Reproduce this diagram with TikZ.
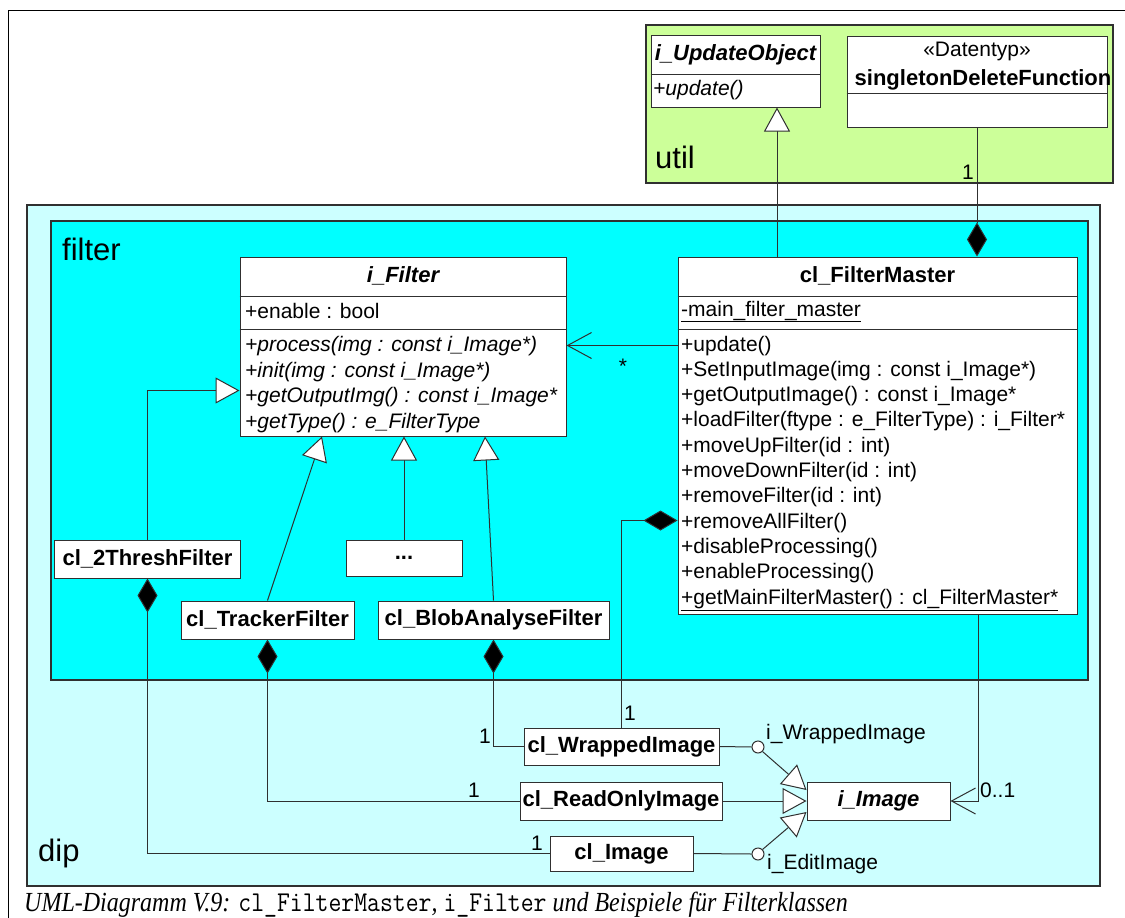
\documentclass[tikz,border=0pt]{standalone}
\usepackage{fontspec}
\setmainfont{Liberation Sans}
\newfontfamily\capserif{Liberation Serif}
\usetikzlibrary{arrows.meta}
\definecolor{utilgreen}{HTML}{CCFF99}
\definecolor{diplight}{HTML}{CCFFFF}
\definecolor{filtercyan}{HTML}{00FFFF}
\definecolor{edge}{HTML}{303030}
\newcommand\fsB{\fontsize{22}{26}\selectfont\bfseries}
\newcommand\fsR{\fontsize{21}{25}\selectfont}
\newcommand\fsP{\fontsize{31}{36}\selectfont}
\tikzset{
  pkg/.style={draw=edge, line width=1.5pt},
  pkglabel/.style={anchor=west, inner sep=0pt, font=\fsP},
  cls/.style={draw=edge, fill=white, line width=1pt, inner sep=0pt},
  smallcls/.style={cls, font=\fsB, minimum height=38pt},
  sep/.style={draw=edge, line width=1pt},
  ttl/.style={anchor=base, inner sep=0pt, font=\fsB},
  mem/.style={anchor=base west, inner sep=0pt, font=\fsR},
  lbl/.style={inner sep=0pt, font=\fsR},
  conn/.style={draw=edge, line width=1pt},
  gen/.style={conn, -{Triangle[length=24pt, width=26pt, fill=white]}},
  comp/.style={conn, {Diamond[length=34pt, width=20pt, fill=black]}-},
  compend/.style={conn, -{Diamond[length=34pt, width=20pt, fill=black]}},
  assoc/.style={conn, -{Straight Barb[length=24pt, width=26pt]}},
  lolli/.style={circle, draw=edge, fill=white, line width=1pt, minimum size=12pt, inner sep=0pt},
}
\begin{document}
\begin{tikzpicture}[x=1pt, y=-1pt]
\useasboundingbox (0,0) rectangle (1125,918);
% outer frame (top and left)
\draw[line width=1pt] (8,918) -- (8,10) -- (1125,10);

% packages
\draw[pkg, fill=utilgreen] (646,25) rectangle (1113,183);
\draw[pkg, fill=diplight] (27,205) rectangle (1100,886);
\draw[pkg, fill=filtercyan] (51,221) rectangle (1088,680);
\node[pkglabel] (utillab) at (655,157) {util};
\node[pkglabel] (filterlab) at (62,249) {filter};
\node[pkglabel] (diplab) at (38,853) {dip};

% i_UpdateObject
\node[cls, minimum width=169pt, minimum height=72pt] (updobj) at (735.5,71) {};
\draw[sep] (updobj.west |- 0,74) -- (updobj.east |- 0,74);
\node[ttl] (updobjt) at (735.5,60) {\itshape i\_UpdateObject};
\node[mem] (updobjm) at (653,95) {\itshape +update()};

% singletonDeleteFunction
\node[cls, minimum width=260pt, minimum height=91pt] (singleton) at (977,81.5) {};
\draw[sep] (singleton.west |- 0,93) -- (singleton.east |- 0,93);
\node[anchor=base, inner sep=0pt, font=\fsR] (stereo) at (977,56) {«Datentyp»};
\node[ttl] (singletont) at (983,85) {singletonDeleteFunction};

% i_Filter
\node[cls, minimum width=326pt, minimum height=179pt] (ifilter) at (403,346.5) {};
\draw[sep] (ifilter.west |- 0,296) -- (ifilter.east |- 0,296);
\draw[sep] (ifilter.west |- 0,329) -- (ifilter.east |- 0,329);
\node[ttl] (ifiltert) at (403,282) {\itshape i\_Filter};
\node[mem] (if1) at (245,318) {+enable : bool};
\node[mem] (if2) at (245,351.5) {\itshape +process(img : const i\_Image*)};
\node[mem] (if3) at (245,377) {\itshape +init(img : const i\_Image*)};
\node[mem] (if4) at (245,402.5) {\itshape +getOutputImg() : const i\_Image*};
\node[mem] (if5) at (245,428) {\itshape +getType() : e\_FilterType};

% cl_FilterMaster
\node[cls, minimum width=399pt, minimum height=357pt] (fm) at (877.5,435.5) {};
\draw[sep] (fm.west |- 0,296) -- (fm.east |- 0,296);
\draw[sep] (fm.west |- 0,329) -- (fm.east |- 0,329);
\node[ttl] (fmt) at (877.5,282) {cl\_FilterMaster};
\node[mem] (fma) at (681,316) {\underline{-main\_filter\_master}};
\node[mem] (fm1) at (681,351) {+update()};
\node[mem] (fm2) at (681,376.3) {+SetInputImage(img : const i\_Image*)};
\node[mem] (fm3) at (681,401.6) {+getOutputImage() : const i\_Image*};
\node[mem] (fm4) at (681,426.9) {+loadFilter(ftype : e\_FilterType) : i\_Filter*};
\node[mem] (fm5) at (681,452.2) {+moveUpFilter(id : int)};
\node[mem] (fm6) at (681,477.5) {+moveDownFilter(id : int)};
\node[mem] (fm7) at (681,502.8) {+removeFilter(id : int)};
\node[mem] (fm8) at (681,528.1) {+removeAllFilter()};
\node[mem] (fm9) at (681,553.4) {+disableProcessing()};
\node[mem] (fm10) at (681,578.7) {+enableProcessing()};
\node[mem] (fm11) at (681,604) {\underline{+getMainFilterMaster() : cl\_FilterMaster*}};

% filter subclasses
\node[smallcls, minimum width=186pt] (thresh) at (147.5,559) {cl\_2ThreshFilter};
\node[smallcls, minimum width=116pt, minimum height=36pt] (dots) at (404,558) {...};
\node[smallcls, minimum width=173pt] (tracker) at (267.5,620) {cl\_TrackerFilter};
\node[smallcls, minimum width=231pt] (blob) at (493.5,620) {cl\_BlobAnalyseFilter};

% image classes
\node[smallcls, minimum width=195pt, minimum height=37pt] (wrapped) at (621.5,746.5) {cl\_WrappedImage};
\node[smallcls, minimum width=202pt] (readonly) at (621,801) {cl\_ReadOnlyImage};
\node[smallcls, minimum width=143pt, minimum height=35pt] (climage) at (621.5,853.5) {cl\_Image};
\node[smallcls, minimum width=143pt] (iimage) at (878.5,801) {\itshape i\_Image};

% lollipops
\node[lolli] (cw) at (758,747) {};
\node[lolli] (ce) at (758,854) {};

% generalizations
\draw[gen] ([xshift=41.5pt]updobj.south |- fm.north) -- ([xshift=41.5pt]updobj.south);
\draw[gen] (thresh.north) |- ([yshift=46pt]ifilter.south west);
\draw[gen] (tracker.north) -- ([xshift=-81pt]ifilter.south);
\draw[gen] (dots.north) -- (dots.north |- ifilter.south);
\draw[gen] (blob.north) -- ([xshift=82pt]ifilter.south);
\draw[conn] (wrapped.east) -- (cw.west);
\draw[gen] (cw.south east) -- ([yshift=11pt]iimage.west);
\draw[gen] (readonly.east) -- (iimage.west);
\draw[conn] (climage.east) -- (ce.west);
\draw[gen] (ce.north east) -- ([yshift=-11pt]iimage.west);

% compositions
\draw[compend] (singleton.south) -- (singleton.south |- fm.north);
\draw[comp] ([yshift=-264pt]fm.north west) -| (wrapped.north);
\draw[comp] (blob.south) |- (wrapped.west);
\draw[comp] (tracker.south) |- (readonly.west);
\draw[comp] (thresh.south) |- (climage.west);

% associations
\draw[assoc] ([yshift=-89pt]fm.north west) -- ([yshift=-89pt]fm.north west -| ifilter.east);
\draw[assoc] ([xshift=100.5pt]fm.south) |- (iimage.east);

% multiplicities and interface labels
\node[lbl] (m1) at (968,172) {1};
\node[lbl] (m2) at (623,366) {*};
\node[lbl] (m3) at (630,713) {1};
\node[lbl] (m4) at (485,736) {1};
\node[lbl] (m5) at (474,790) {1};
\node[lbl] (m6) at (537,843) {1};
\node[lbl, anchor=west] (m7) at (980,790) {0..1};
\node[lbl, anchor=west] (iwl) at (766,734) {i\_WrappedImage};
\node[lbl, anchor=west] (iel) at (767,864) {i\_EditImage};

% caption
\node[anchor=base west, inner sep=0pt] (cap) at (24,911) {\scalebox{1}[1.15]{\fontsize{24}{27}\selectfont\capserif\itshape UML-Diagramm V.9: {\fontsize{25}{27}\selectfont\ttfamily\upshape cl\_FilterMaster}, {\fontsize{25}{27}\selectfont\ttfamily\upshape i\_Filter} und Beispiele für Filterklassen}};
\end{tikzpicture}
\end{document}
